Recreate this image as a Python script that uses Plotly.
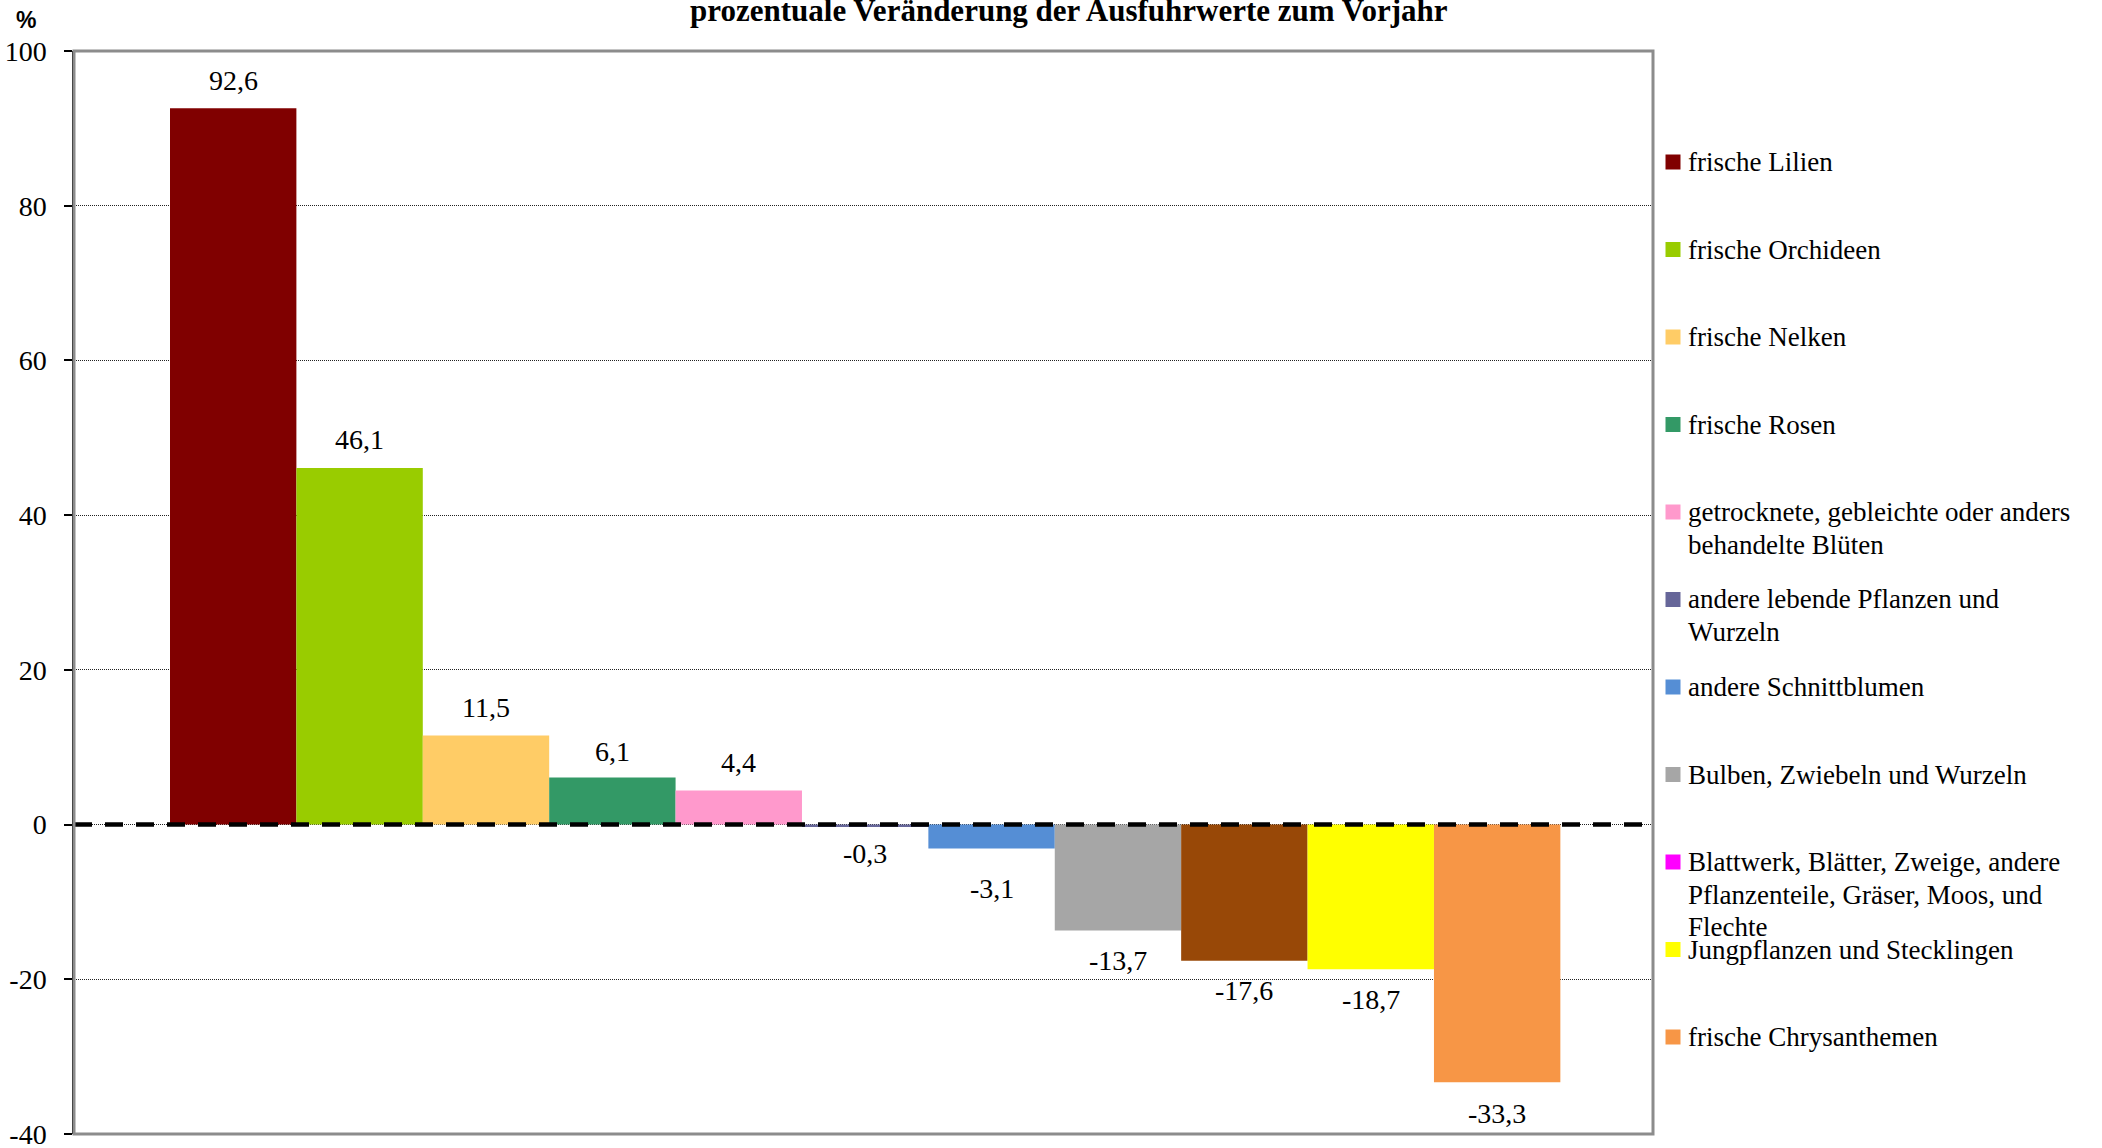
import plotly.graph_objects as go

# ---------------- data ----------------
categories = [
    "frische Lilien",
    "frische Orchideen",
    "frische Nelken",
    "frische Rosen",
    "getrocknete, gebleichte oder anders<br>behandelte Blüten",
    "andere lebende Pflanzen und<br>Wurzeln",
    "andere Schnittblumen",
    "Bulben, Zwiebeln und Wurzeln",
    "Blattwerk, Blätter, Zweige, andere<br>Pflanzenteile, Gräser, Moos, und<br>Flechte",
    "Jungpflanzen und Stecklingen",
    "frische Chrysanthemen",
]
values = [92.6, 46.1, 11.5, 6.1, 4.4, -0.3, -3.1, -13.7, -17.6, -18.7, -33.3]
bar_colors = ["#800000", "#99CC00", "#FFCC66", "#339966", "#FF99CC", "#666699",
              "#558ED5", "#A6A6A6", "#984807", "#FFFF00", "#F79646"]
legend_colors = ["#800000", "#99CC00", "#FFCC66", "#339966", "#FF99CC", "#666699",
                 "#558ED5", "#A6A6A6", "#FF00FF", "#FFFF00", "#F79646"]
y_ticks = [100, 80, 60, 40, 20, 0, -20, -40]
title_text = "prozentuale Veränderung der Ausfuhrwerte zum Vorjahr"
unit_label = "%"

# ---------------- layout geometry (pixels) ----------------
W, H = 2102, 1148
L, R, T, B = 74, 1653, 51, 1134
PW, PH = R - L, B - T

def px_x(p):
    return (p - L) / PW

def px_y(p):
    return (B - p) / PH

SERIF = "Liberation Serif, Times New Roman, serif"

fig = go.Figure()
fig.add_trace(go.Bar(
    x=list(range(len(values))),
    y=values,
    width=1,
    marker=dict(color=bar_colors, line=dict(width=0)),
    showlegend=False,
    hoverinfo="y",
))

annotations = []
# data labels
label_shift = [28, 28, 28, 26, 28, -27, -40, -30, -30, -30, -31]
for i, v in enumerate(values):
    annotations.append(dict(
        x=i, y=v, xref="x", yref="y",
        text=f"{v:.1f}".replace(".", ","),
        showarrow=False, yanchor="middle", xanchor="center",
        yshift=label_shift[i],
        font=dict(family=SERIF, size=28, color="black"),
    ))

# title and unit
annotations.append(dict(
    x=px_x(1069), y=px_y(11), xref="paper", yref="paper",
    text=f"<b>{title_text}</b>", showarrow=False,
    xanchor="center", yanchor="middle",
    font=dict(family=SERIF, size=31, color="black"),
))
annotations.append(dict(
    x=px_x(26), y=px_y(20), xref="paper", yref="paper",
    text=f"<b>{unit_label}</b>", showarrow=False,
    xanchor="center", yanchor="middle",
    font=dict(family="Liberation Sans, Arial, sans-serif", size=23, color="black"),
))

# manual legend
shapes = []
row0, row_step, line_step = 162, 87.5, 32.5
for k, (name, col) in enumerate(zip(categories, legend_colors)):
    cy = row0 + row_step * k
    shapes.append(dict(
        type="rect", xref="paper", yref="paper",
        xsizemode="pixel", ysizemode="pixel",
        xanchor=px_x(1673), yanchor=px_y(cy),
        x0=-7.5, x1=7.5, y0=-7.5, y1=7.5,
        fillcolor=col, line=dict(width=0), layer="above",
    ))
    for j, line in enumerate(name.split("<br>")):
        annotations.append(dict(
            x=px_x(1686), y=px_y(cy + line_step * j), xref="paper", yref="paper",
            text=line, showarrow=False, xanchor="left", yanchor="middle",
            font=dict(family=SERIF, size=27, color="black"),
        ))

# zero dashed line
shapes.append(dict(
    type="line", xref="paper", yref="y", x0=0, x1=1, y0=0, y1=0,
    line=dict(color="black", width=4.5, dash="18px,13px"), layer="above",
))
# plot frame
shapes.append(dict(
    type="rect", xref="paper", yref="paper", x0=0, x1=1, y0=0, y1=1,
    line=dict(color="#8C8C8C", width=3), fillcolor="rgba(0,0,0,0)", layer="above",
))

fig.update_layout(
    width=W, height=H,
    margin=dict(l=L, r=W - R, t=T, b=H - B, pad=0, autoexpand=False),
    paper_bgcolor="white", plot_bgcolor="white",
    showlegend=False,
    annotations=annotations,
    shapes=shapes,
    xaxis=dict(
        range=[-1.2595, 11.233], showticklabels=False, showgrid=False,
        zeroline=False, ticks="", showline=False, fixedrange=True, automargin=False,
    ),
    yaxis=dict(
        range=[-40, 100], tickvals=y_ticks, ticktext=[str(t) for t in y_ticks],
        showgrid=True, gridcolor="#222222", gridwidth=1, griddash="1px,1px",
        zeroline=False, showline=True, linecolor="black", linewidth=1.5,
        ticks="outside", ticklen=8, tickcolor="black", tickwidth=1.5,
        ticklabelstandoff=12, automargin=False, ticklabeloverflow="allow",
        tickfont=dict(family=SERIF, size=28, color="black"),
        fixedrange=True,
    ),
)

fig.write_html(
    "out.html",
    config={"displayModeBar": False},
    post_script="document.body.style.margin='0';document.body.style.overflow='hidden';",
)
